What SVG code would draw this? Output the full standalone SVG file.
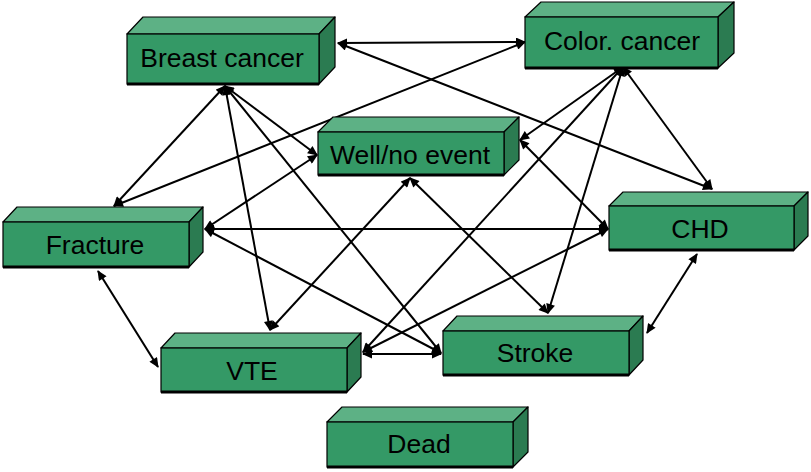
<svg xmlns="http://www.w3.org/2000/svg" width="811" height="472" viewBox="0 0 811 472">
<style>
.front{fill:#349966;stroke:#000;stroke-width:1.2}
.top{fill:#5db185;stroke:#000;stroke-width:1.2;stroke-linejoin:round}
.side{fill:#2b7b51;stroke:#000;stroke-width:1.2;stroke-linejoin:round}
.base{stroke:#000;stroke-width:3}
.lbl{font-family:"Liberation Sans",Arial,sans-serif;font-size:26.5px;fill:#000;text-anchor:middle}
.c line{stroke:#000;stroke-width:2;marker-start:url(#ah);marker-end:url(#ah)}
</style>
<defs>
<marker id="ah" markerUnits="userSpaceOnUse" viewBox="0 0 10 9" markerWidth="11" markerHeight="9" refX="9" refY="4.5" orient="auto-start-reverse">
<path d="M0,0 L10,4.5 L0,9 z" fill="#000"/>
</marker>
</defs>
<rect width="811" height="472" fill="#fff"/>
<g id="connectors" class="c">
<line x1="338" y1="43" x2="525" y2="42"/>
<line x1="338" y1="43" x2="712" y2="189"/>
<line x1="225" y1="86" x2="114" y2="206"/>
<line x1="225" y1="86" x2="317" y2="155"/>
<line x1="225" y1="86" x2="270" y2="330"/>
<line x1="225" y1="86" x2="441" y2="353"/>
<line x1="525" y1="42" x2="114" y2="206"/>
<line x1="623" y1="67" x2="520" y2="140"/>
<line x1="623" y1="67" x2="363" y2="352"/>
<line x1="623" y1="67" x2="548" y2="313"/>
<line x1="623" y1="67" x2="712" y2="189"/>
<line x1="317" y1="155" x2="205" y2="229"/>
<line x1="410" y1="178" x2="270" y2="330"/>
<line x1="410" y1="178" x2="548" y2="313"/>
<line x1="520" y1="140" x2="608" y2="229"/>
<line x1="205" y1="229" x2="608" y2="229"/>
<line x1="205" y1="229" x2="441" y2="353"/>
<line x1="98" y1="271" x2="158" y2="367"/>
<line x1="363" y1="352" x2="608" y2="229"/>
<line x1="363" y1="354" x2="441" y2="354"/>
<line x1="697" y1="254" x2="647" y2="333"/>
</g>
<g id="breast-cancer">
<path class="top" d="M127,34 L143,17 L335,17 L319,34 Z"/>
<path class="side" d="M319,34 L335,17 L335,67 L319,84 Z"/>
<rect class="front" x="127" y="34" width="192" height="50"/>
<line class="base" x1="127" y1="84" x2="319" y2="84"/>
<text class="lbl" x="222" y="67">Breast cancer</text>
</g>
<g id="color-cancer">
<path class="top" d="M525,17 L541,2 L734,2 L718,17 Z"/>
<path class="side" d="M718,17 L734,2 L734,53 L718,68 Z"/>
<rect class="front" x="525" y="17" width="193" height="51"/>
<line class="base" x1="525" y1="68" x2="718" y2="68"/>
<text class="lbl" x="622" y="50">Color. cancer</text>
</g>
<g id="well-no-event">
<path class="top" d="M318,132 L333,117 L519,117 L504,132 Z"/>
<path class="side" d="M504,132 L519,117 L519,160 L504,175 Z"/>
<rect class="front" x="318" y="132" width="186" height="43"/>
<line class="base" x1="318" y1="175" x2="504" y2="175"/>
<text class="lbl" x="410" y="164">Well/no event</text>
</g>
<g id="fracture">
<path class="top" d="M3,222 L17,207 L203,207 L189,222 Z"/>
<path class="side" d="M189,222 L203,207 L203,252 L189,267 Z"/>
<rect class="front" x="3" y="222" width="186" height="45"/>
<line class="base" x1="3" y1="267" x2="189" y2="267"/>
<text class="lbl" x="95" y="254">Fracture</text>
</g>
<g id="chd">
<path class="top" d="M609,206 L623,192 L808,192 L794,206 Z"/>
<path class="side" d="M794,206 L808,192 L808,236 L794,250 Z"/>
<rect class="front" x="609" y="206" width="185" height="44"/>
<line class="base" x1="609" y1="250" x2="794" y2="250"/>
<text class="lbl" x="700" y="238">CHD</text>
</g>
<g id="vte">
<path class="top" d="M161,348 L175,333 L361,333 L347,348 Z"/>
<path class="side" d="M347,348 L361,333 L361,377 L347,392 Z"/>
<rect class="front" x="161" y="348" width="186" height="44"/>
<line class="base" x1="161" y1="392" x2="347" y2="392"/>
<text class="lbl" x="252" y="380">VTE</text>
</g>
<g id="stroke">
<path class="top" d="M443,331 L457,316 L643,316 L629,331 Z"/>
<path class="side" d="M629,331 L643,316 L643,360 L629,375 Z"/>
<rect class="front" x="443" y="331" width="186" height="44"/>
<line class="base" x1="443" y1="375" x2="629" y2="375"/>
<text class="lbl" x="535" y="362">Stroke</text>
</g>
<g id="dead">
<path class="top" d="M327,422 L342,407 L528,407 L513,422 Z"/>
<path class="side" d="M513,422 L528,407 L528,452 L513,467 Z"/>
<rect class="front" x="327" y="422" width="186" height="45"/>
<line class="base" x1="327" y1="467" x2="513" y2="467"/>
<text class="lbl" x="419" y="453">Dead</text>
</g>
</svg>
